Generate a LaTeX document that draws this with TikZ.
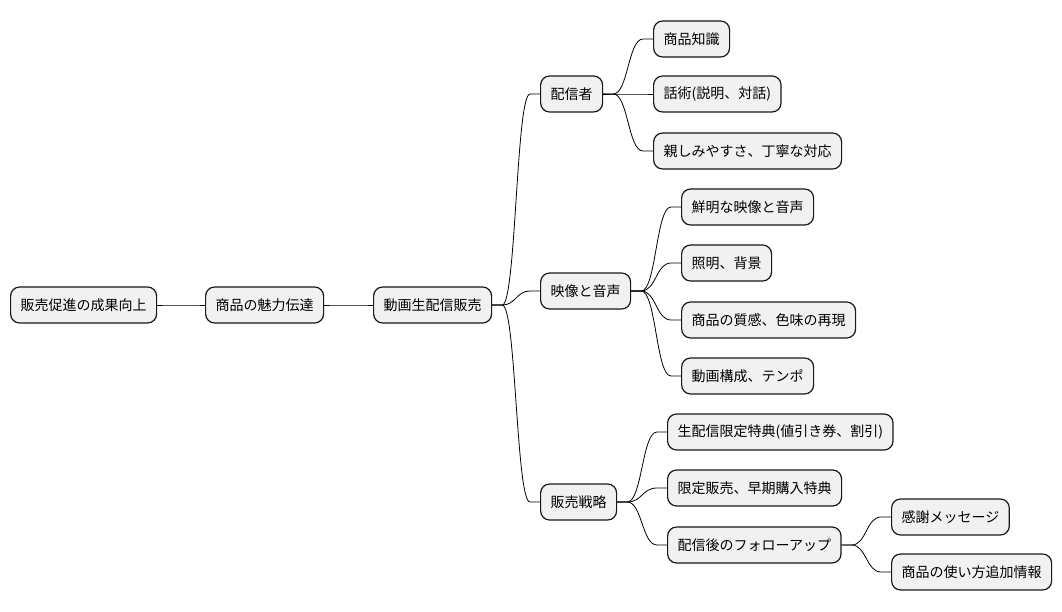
\documentclass[tikz,border=0pt]{standalone}
\usepackage{fontspec}
\newfontfamily\cjk{Noto Sans CJK JP}
\usetikzlibrary{calc}
\definecolor{mmfill}{HTML}{F1F1F1}
\definecolor{mmedge}{HTML}{181818}
\tikzset{
  mmbox/.style={draw=mmedge,line width=1.2pt,fill=mmfill,rounded corners=9pt,anchor=west,
    minimum height=36pt,inner xsep=10pt,font=\cjk\fontsize{14}{16}\selectfont},
  mmline/.style={line width=0.8pt,black},
}
\newcommand{\mmlink}[2]{% #1 = parent node, #2 = child node
  \draw[mmline] let \p1=(#1.east), \p2=(#2.west) in
    (\p1) -- ++(10pt,0) .. controls ({(\x1+\x2)/2},\y1) and ({(\x1+\x2)/2},\y2) ..
    ($(\p2)+(-10pt,0)$) -- (\p2);}

\begin{document}
\begin{tikzpicture}[x=1pt,y=-1pt]
\useasboundingbox (0,0) rectangle (1062,612);
% ---- main line
\node[mmbox] (goal) at (10,305) {販売促進の成果向上};
\node[mmbox] (appeal) at (205,305) {商品の魅力伝達};
\node[mmbox] (live) at (373,305) {動画生配信販売};
% ---- three branches
\node[mmbox] (host) at (540,94) {配信者};
\node[mmbox] (av) at (540,291) {映像と音声};
\node[mmbox] (sales) at (540,502) {販売戦略};
% ---- host
\node[mmbox] (know) at (653,39) {商品知識};
\node[mmbox] (talk) at (653,94) {話術(説明、対話)};
\node[mmbox] (kind) at (653,151) {親しみやすさ、丁寧な対応};
% ---- video and sound
\node[mmbox] (clear) at (681,207) {鮮明な映像と音声};
\node[mmbox] (light) at (681,263) {照明、背景};
\node[mmbox] (color) at (681,320) {商品の質感、色味の再現};
\node[mmbox] (tempo) at (681,376) {動画構成、テンポ};
% ---- sales
\node[mmbox] (bonus) at (667,432) {生配信限定特典(値引き券、割引)};
\node[mmbox] (limit) at (667,488) {限定販売、早期購入特典};
\node[mmbox] (follow) at (667,545) {配信後のフォローアップ};
\node[mmbox] (thanks) at (891,517) {感謝メッセージ};
\node[mmbox] (usage) at (891,572) {商品の使い方追加情報};
% ---- links
\mmlink{goal}{appeal}
\mmlink{appeal}{live}
\foreach \C in {host,av,sales}{\mmlink{live}{\C}}
\foreach \C in {know,talk,kind}{\mmlink{host}{\C}}
\foreach \C in {clear,light,color,tempo}{\mmlink{av}{\C}}
\foreach \C in {bonus,limit,follow}{\mmlink{sales}{\C}}
\foreach \C in {thanks,usage}{\mmlink{follow}{\C}}
\end{tikzpicture}
\end{document}
